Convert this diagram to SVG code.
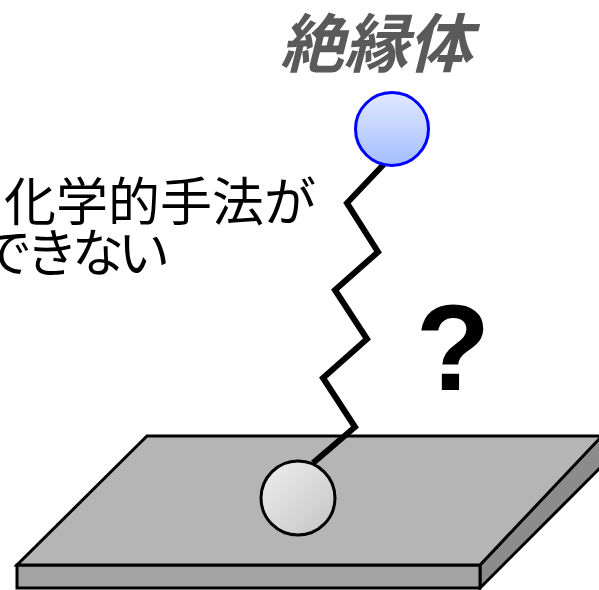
<svg xmlns="http://www.w3.org/2000/svg" width="599" height="590" viewBox="0 0 599 590">
  <style>
    .edge { stroke: #000; stroke-width: 3; stroke-linejoin: miter; }
    .chain { fill: none; stroke: #000; stroke-width: 6; stroke-linejoin: miter; stroke-linecap: butt; }
    .jp { font-family: "Noto Sans CJK JP", "Noto Sans", sans-serif; }
    .title { font-size: 64px; font-weight: bold; font-style: italic; fill: #5a5a5a; }
    .note { font-size: 52px; fill: #000; }
    .q { font-family: "Liberation Sans", Arial, sans-serif; font-size: 122px; font-weight: bold; fill: #000; }
  </style>
  <defs>
    <linearGradient id="blueFill" x1="0" y1="0" x2="0" y2="1">
      <stop offset="0" stop-color="#e2eaff"/>
      <stop offset="1" stop-color="#a4bdff"/>
    </linearGradient>
    <linearGradient id="greyFill" x1="0" y1="0" x2="1" y2="1">
      <stop offset="0" stop-color="#efefef"/>
      <stop offset="1" stop-color="#c4c4c4"/>
    </linearGradient>
  </defs>

  <!-- substrate slab -->
  <g id="substrate">
    <polygon class="edge" fill="#8c8c8c" points="480,565 602,435 602,466 480,588"/>
    <polygon class="edge" fill="#a3a3a3" points="17,565 480,565 480,588 17,588"/>
    <polygon class="edge" fill="#b5b5b5" points="147,436 602,436 480,565 17,565"/>
  </g>

  <!-- molecular chain linking the anchor to the insulator head -->
  <g id="connectors">
    <polyline class="chain" points="385,163 347,203 378,252 335,290 367,339 323,378 355,427 313,463"/>
  </g>

  <!-- anchor group on the surface -->
  <g id="anchor">
    <circle cx="298" cy="498" r="37" fill="url(#greyFill)" stroke="#000" stroke-width="3"/>
  </g>

  <!-- insulator head group -->
  <g id="insulator">
    <circle cx="392" cy="129" r="36.5" fill="url(#blueFill)" stroke="#0000ff" stroke-width="3"/>
  </g>

  <!-- labels -->
  <g id="labels">
    <text class="jp title" x="376" y="67" text-anchor="middle">絶縁体</text>
    <text class="jp note" x="4" y="221">化学的手法が</text>
    <text class="jp note" x="-20" y="272" letter-spacing="-6">できない</text>
    <text class="q" x="453" y="390" text-anchor="middle">?</text>
  </g>
</svg>
